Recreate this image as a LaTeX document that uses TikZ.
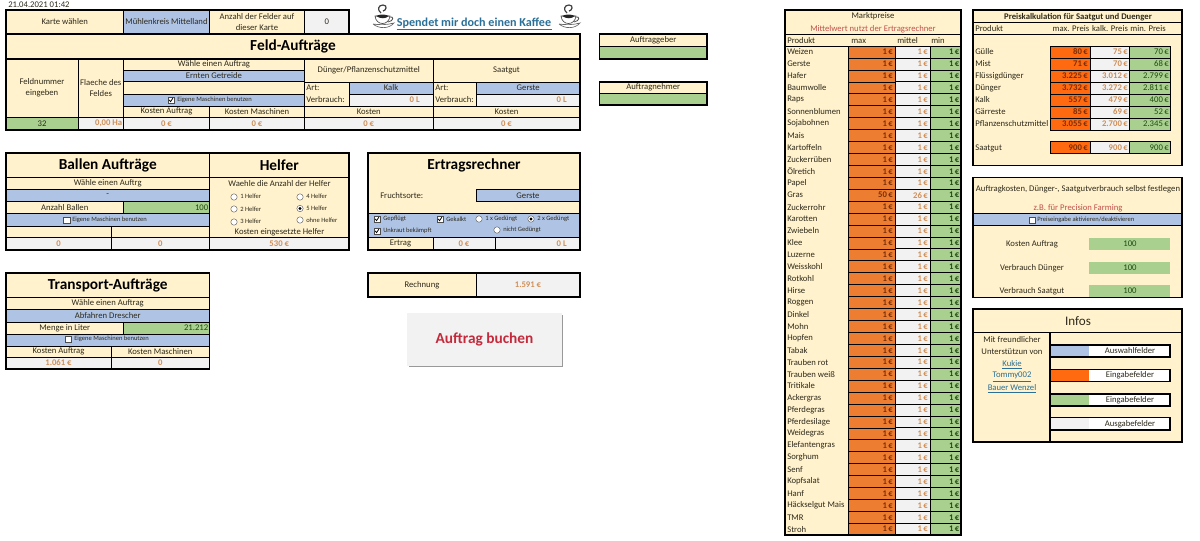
\documentclass[tikz,border=0pt]{standalone}
\usepackage{fontspec}
\setmainfont{Carlito}
\usetikzlibrary{positioning}

\definecolor{creamc}{HTML}{FFF2CC}
\definecolor{bluec}{HTML}{AFC3E4}
\definecolor{greenc}{HTML}{A9D08E}
\definecolor{orangec}{HTML}{ED7D31}
\definecolor{orangeb}{HTML}{FF6A10}
\definecolor{grayc}{HTML}{F2F2F2}
\definecolor{textc}{HTML}{2E2A1C}
\definecolor{outc}{HTML}{D08E55}
\definecolor{inc}{HTML}{7A2E05}
\definecolor{greent}{HTML}{1F4A12}
\definecolor{redt}{HTML}{C0504D}
\definecolor{redbtn}{HTML}{C42A3C}
\definecolor{linkc}{HTML}{2A6F97}

\tikzset{
    lbl/.style={font=\fontsize{6.5}{7}\selectfont, inner sep=0pt, text=textc, align=center},
    small/.style={lbl, font=\fontsize{4.9}{6}\selectfont},
    title/.style={lbl, font=\fontsize{11.5}{13}\bfseries\selectfont, text=black},
    outval/.style={lbl, text=outc, font=\fontsize{6.5}{7}\bfseries\selectfont},
    inval/.style={lbl, text=inc, font=\fontsize{6.5}{7}\bfseries\selectfont},
    grval/.style={lbl, text=greent, font=\fontsize{6.5}{7}\selectfont},
    link/.style={lbl, text=linkc},
    cellcream/.style={fill=creamc, draw=black, line width=.5pt},
    cellblue/.style={fill=bluec, draw=black, line width=.5pt},
    cellgreen/.style={fill=greenc, draw=black, line width=.5pt},
    cellgray/.style={fill=grayc, draw=black, line width=.5pt},
    cellorange/.style={fill=orangec, draw=black, line width=.4pt},
    cellorangeb/.style={fill=orangeb, draw=black, line width=.4pt},
    frame/.style={draw=black, line width=1.1pt},
    boxmark/.style={fill=white, draw=black!70, line width=.3pt},
    coffeecup/.pic={
        \draw[black!60, line width=.5pt, fill=white] (-10,7) .. controls (-4,12) and (6,12) .. (11,6) .. controls (4,8) and (-4,8) .. (-10,7);
        \draw[black!70, line width=.5pt, fill=white] (-8,-1) .. controls (-7,9) and (6,9) .. (7,-1) -- cycle;
        \fill[black!85] (-7,-1) .. controls (-2,2) and (2,2) .. (6,-1) .. controls (2,-3) and (-3,-3) .. (-7,-1);
        \draw[black!70, line width=.6pt] (7,0) .. controls (11,-1) and (11,4) .. (5,5);
        \draw[black!75, line width=.9pt] (-2,-4) .. controls (-6,-7) and (-5,-12) .. (0,-12) .. controls (5,-12) and (3,-6) .. (0,-6);
    }
}

% one table cell: options of the text, fill style, name, corners, text
\newcommand{\cell}[7][]{%
    \path[#2] (#4,#5) rectangle (#6,#7);
    \node[lbl,#1] (#3) at ({(#4+#6)/2},{(#5+#7)/2}) {\celltext};
}
\newcommand{\celltext}{}
\newcommand{\tcell}[8][]{%
    \renewcommand{\celltext}{#8}%
    \cell[#1]{#2}{#3}{#4}{#5}{#6}{#7}%
}

\begin{document}
\begin{tikzpicture}[x=0.75pt, y=-0.75pt]
    \useasboundingbox (0,0) rectangle (1200,540);

    \node[lbl, anchor=west] (date) at (8,5) {21.04.2021 01:42};

    % top row
    \tcell{cellcream}{karte}{6}{10}{123.5}{34}{Karte wählen}
    \tcell{cellblue}{muehle}{123.5}{10}{209.5}{34}{Mühlenkreis Mittelland}
    \tcell{cellcream}{anzahl}{209.5}{10}{304.5}{34}{Anzahl der Felder auf\\[1.5pt]dieser Karte}
    \tcell{cellgray}{anzval}{304.5}{10}{349}{34}{0}
    \draw[frame] (6,10) rectangle (349,34);

    % coffee
    \pic at (383,17) {coffeecup};
    \pic at (569,17) {coffeecup};
    \node[lbl, text=linkc, font=\fontsize{9.1}{10}\bfseries\selectfont] (spende) at (474,23) {Spendet mir doch einen Kaffee};
    \draw[linkc, line width=.5pt] (396.5,29) -- (552,29);

    % field orders
    \tcell[title]{cellcream}{feldtitel}{6}{34}{580}{59}{Feld-Aufträge}
    \tcell{cellcream}{feldnr}{6}{59}{78}{117}{Feldnummer\\[1.5pt]eingeben}
    \tcell{cellcream}{flaeche}{78}{59}{123.5}{117}{Flaeche des\\[1.5pt]Feldes}
    \tcell{cellcream}{waehle}{123.5}{59}{304.5}{70}{Wähle einen Auftrag}
    \tcell{cellblue}{ernten}{123.5}{70}{304.5}{81}{Ernten Getreide}
    \tcell{cellcream}{leer}{123.5}{81}{304.5}{94}{}
    \tcell{cellblue}{eigene}{123.5}{94}{304.5}{106}{}
    \tcell{cellcream}{kauftrag}{123.5}{106}{209.5}{117}{Kosten Auftrag}
    \tcell{cellcream}{kmasch}{209.5}{106}{304.5}{117}{Kosten Maschinen}
    \tcell{cellcream}{duenger}{304.5}{59}{433}{82}{Dünger/Pflanzenschutzmittel}
    \tcell{cellcream}{dart}{304.5}{82}{349}{106}{}
    \tcell{cellblue}{kalk}{349}{82}{433}{94}{Kalk}
    \tcell{cellgray}{dverb}{349}{94}{433}{106}{}
    \tcell{cellcream}{dkosten}{304.5}{106}{433}{117}{Kosten}
    \tcell{cellcream}{saatgut}{433}{59}{580}{82}{Saatgut}
    \tcell{cellcream}{sart}{433}{82}{476.5}{106}{}
    \tcell{cellblue}{gerste}{476.5}{82}{580}{94}{Gerste}
    \tcell{cellgray}{sverb}{476.5}{94}{580}{106}{}
    \tcell{cellcream}{skosten}{433}{106}{580}{117}{Kosten}
    \tcell{cellgreen}{feldval}{6}{117}{78}{130}{32}
    \tcell{cellgray}{flval}{78}{117}{123.5}{130}{}
    \tcell[outval]{cellgray}{kaval}{123.5}{117}{209.5}{130}{0 €}
    \tcell[outval]{cellgray}{kmval}{209.5}{117}{304.5}{130}{0 €}
    \tcell[outval]{cellgray}{dkval}{304.5}{117}{433}{130}{0 €}
    \tcell[outval]{cellgray}{skval}{433}{117}{580}{130}{0 €}
    \node[outval, anchor=east] (flha) at (122.5,123.5) {0,00 Ha};
    \node[lbl, anchor=west] (dartl) at (306,88) {Art:};
    \node[lbl, anchor=west] (dverbl) at (306,100) {Verbrauch:};
    \node[lbl, anchor=west] (sartl) at (435,88) {Art:};
    \node[lbl, anchor=west] (sverbl) at (435,100) {Verbrauch:};
    \node[outval, anchor=east] (dl) at (420,100) {0 L};
    \node[outval, anchor=east] (sl) at (567,100) {0 L};
    \draw[frame] (6,34) rectangle (580,59);
    \draw[frame] (6,59) rectangle (580,130);

    % client and contractor
    \tcell{cellcream}{geber}{599.5}{34}{707}{46}{Auftraggeber}
    \tcell{cellgreen}{geberval}{599.5}{46}{707}{59}{}
    \draw[frame] (599.5,34) rectangle (707,59);
    \tcell{cellcream}{nehmer}{599.5}{82}{707}{93}{Auftragnehmer}
    \tcell{cellgreen}{nehmerval}{599.5}{93}{707}{105}{}
    \draw[frame] (599.5,82) rectangle (707,105);

    % bale orders
    \tcell[title]{cellcream}{balltitel}{6}{153}{209.5}{177}{Ballen Aufträge}
    \tcell{cellcream}{ballw}{6}{177}{209.5}{189}{Wähle einen Auftrg}
    \tcell{cellblue}{ballb}{6}{189}{209.5}{201.5}{-}
    \tcell{cellcream}{ballanz}{6}{201.5}{123.5}{213.5}{Anzahl Ballen}
    \tcell{cellgreen}{ballg}{123.5}{201.5}{209.5}{213.5}{}
    \node[grval, anchor=east] (ballv) at (208.5,207.5) {100};
    \tcell{cellblue}{balle}{6}{213.5}{209.5}{226}{}
    \tcell{cellcream}{balll}{6}{226}{111}{237.5}{}
    \tcell{cellcream}{ballr}{111}{226}{209.5}{237.5}{}
    \tcell[outval]{cellgray}{ballvl}{6}{237.5}{111}{250}{0}
    \tcell[outval]{cellgray}{ballvr}{111}{237.5}{209.5}{250}{0}

    % helpers
    \tcell[title]{cellcream}{helftitel}{209.5}{153}{349}{177}{Helfer}
    \path[cellcream] (209.5,177) rectangle (349,237.5);
    \node[lbl] (helfw) at (279.5,184) {Waehle die Anzahl der Helfer};
    \node[lbl] (helfk) at (279.5,232) {Kosten eingesetzte Helfer};
    \tcell[outval]{cellgray}{helfv}{209.5}{237.5}{349}{250}{530 €}
    \draw[frame] (6,153) rectangle (349,250);
    \draw[frame] (209.5,153) -- (209.5,250);

    % yield calculator
    \tcell[title]{cellcream}{ertitel}{368}{153}{580}{177}{Ertragsrechner}
    \path[cellcream, draw=none] (368,177) rectangle (580,213);
    \node[lbl, anchor=west] (frucht) at (380,196) {Fruchtsorte:};
    \tcell{cellblue}{ergerste}{476}{189}{580}{201.5}{Gerste}
    \path[cellblue] (368,213) rectangle (580,237.5);
    \tcell{cellcream}{ertrag}{368}{237.5}{433}{250}{Ertrag}
    \tcell[outval]{cellgray}{erv}{433}{237.5}{495}{250}{0 €}
    \tcell{cellgray}{erl}{495}{237.5}{580}{250}{}
    \node[outval, anchor=east] (erlv) at (567,244) {0 L};
    \draw[frame] (368,153) rectangle (580,250);

    % invoice
    \tcell{cellcream}{rechn}{368}{273}{476}{297}{Rechnung}
    \tcell[outval]{cellgray}{rechv}{476}{273}{580}{297}{1.591 €}
    \draw[frame] (368,273) rectangle (580,297);

    % transport
    \tcell[title]{cellcream}{transtitel}{6}{273}{209.5}{297}{Transport-Aufträge}
    \tcell{cellcream}{transw}{6}{297}{209.5}{309}{Wähle einen Auftrag}
    \tcell{cellblue}{transb}{6}{309}{209.5}{322}{Abfahren Drescher}
    \tcell{cellcream}{transm}{6}{322}{123.5}{334}{Menge in Liter}
    \tcell{cellgreen}{transg}{123.5}{322}{209.5}{334}{}
    \node[grval, anchor=east] (transv) at (208.5,328) {21.212};
    \tcell{cellblue}{transe}{6}{334}{209.5}{346}{}
    \tcell{cellcream}{transka}{6}{346}{111}{357}{Kosten Auftrag}
    \tcell{cellcream}{transkm}{111}{346}{209.5}{357}{Kosten Maschinen}
    \tcell[outval]{cellgray}{transva}{6}{357}{111}{369}{1.061 €}
    \tcell[outval]{cellgray}{transvm}{111}{357}{209.5}{369}{0}
    \draw[frame] (6,273) rectangle (209.5,369);

    % button
    \fill[black!40] (408.5,314.5) rectangle (563,367);
    \tcell[text=redbtn, font=\fontsize{11.5}{13}\bfseries\selectfont]{fill=grayc}{buchen}{407}{313}{562}{365.5}{Auftrag buchen}

    % tick boxes, ticked
    \foreach \bx/\by in {171/100, 377/219, 440/219, 377/231}{
        \path[boxmark] (\bx-2.8,\by-2.8) rectangle (\bx+2.8,\by+2.8);
        \draw[black, line width=.6pt] (\bx-1.8,\by) -- (\bx-.4,\by+1.6) -- (\bx+1.9,\by-1.9);
    }
    % tick boxes, empty
    \foreach \bx/\by in {66.5/220, 68/339, 1032/220}{
        \path[boxmark] (\bx-3.2,\by-3.2) rectangle (\bx+3.2,\by+3.2);
    }
    \foreach \lx/\ly/\nm/\txt in {177/100/la/Eigene Maschinen benutzen, 72/220/lb/Eigene Maschinen benutzen,
        74/339/lc/Eigene Maschinen benutzen, 383/219/ld/Gepflügt, 446/219/le/Gekalkt,
        383/231/lf/Unkraut bekämpft, 485/219/lg/1 x Gedüngt, 537/219/lh/2 x Gedüngt, 503/230/li/nicht Gedüngt,
        240/196/lj/1 Helfer, 240/209/lk/2 Helfer, 240/221/ll/3 Helfer,
        306/196/lm/4 Helfer, 306/208/ln/5 Helfer, 306/220/lo/ohne Helfer}{
        \node[small, anchor=west] (\nm) at (\lx,\ly) {\txt};
    }
    % radio buttons
    \foreach \bx/\by in {234/197, 234/209, 234/222, 300/197, 300/220, 479/219, 497/230}{
        \path[boxmark] (\bx,\by) circle (3.2);
    }
    \foreach \bx/\by in {300/208.5, 531/219}{
        \path[boxmark] (\bx,\by) circle (3.2);
        \fill[black] (\bx,\by) circle (1.6);
    }

    % market prices
    \path[cellcream] (785,10) rectangle (961,46);
    \path[fill=creamc] (785,46) rectangle (848,535);
    \node[lbl] (markt) at (873,16) {Marktpreise};
    \node[lbl, text=redt] (mittelw) at (873,29) {Mittelwert nutzt der Ertragsrechner};
    \draw[black, line width=.7pt] (785,34.5) -- (961,34.5);
    \node[lbl, anchor=west] (mprod) at (787,41) {Produkt};
    \node[lbl, anchor=west] (mmax) at (851,41) {max};
    \node[lbl, anchor=west] (mmit) at (897,41) {mittel};
    \node[lbl, anchor=west] (mmin) at (931,41) {min};
    \foreach \prodname/\pmax/\pmid [count=\i] in {Weizen/1/1, Gerste/1/1, Hafer/1/1, Baumwolle/1/1, Raps/1/1,
        Sonnenblumen/1/1, Sojabohnen/1/1, Mais/1/1, Kartoffeln/1/1, Zuckerrüben/1/1, Ölretich/1/1, Papel/1/1,
        Gras/50/26, Zuckerrohr/1/1, Karotten/1/1, Zwiebeln/1/1, Klee/1/1, Luzerne/1/1, Weisskohl/1/1, Rotkohl/1/1,
        Hirse/1/1, Roggen/1/1, Dinkel/1/1, Mohn/1/1, Hopfen/1/1, Tabak/1/1, Trauben rot/1/1, Trauben weiß/1/1,
        Tritikale/1/1, Ackergras/1/1, Pferdegras/1/1, Pferdesilage/1/1, Weidegras/1/1, Elefantengras/1/1,
        Sorghum/1/1, Senf/1/1, Kopfsalat/1/1, Hanf/1/1, Häckselgut Mais/1/1, TMR/1/1, Stroh/1/1}{
        \pgfmathsetmacro{\ytop}{46+(\i-1)*11.93}
        \pgfmathsetmacro{\ybot}{\ytop+11.93}
        \pgfmathsetmacro{\ymid}{\ytop+5.96}
        \path[cellorange] (848,\ytop) rectangle (895,\ybot);
        \path[cellgray] (895,\ytop) rectangle (930,\ybot);
        \path[cellgreen] (930,\ytop) rectangle (961,\ybot);
        \node[lbl, anchor=west] (prod\i) at (787,\ymid) {\prodname};
        \node[inval, anchor=east] (pmax\i) at (893,\ymid) {\pmax\,€};
        \node[outval, anchor=east] (pmid\i) at (928,\ymid) {\pmid\,€};
        \node[grval, anchor=east, font=\fontsize{6.5}{7}\bfseries\selectfont] (pmin\i) at (959.5,\ymid) {1\,€};
    }
    \draw[black, line width=.5pt] (785,46) -- (961,46);
    \draw[frame] (785,10) rectangle (961,535);

    % price calculation
    \path[cellcream] (973,10) rectangle (1182,165.7);
    \node[lbl, font=\fontsize{6.5}{7}\bfseries\selectfont] (preistitel) at (1078,17) {Preiskalkulation für Saatgut und Duenger};
    \draw[black, line width=.7pt] (973,22.5) -- (1182,22.5);
    \draw[black, line width=.5pt] (973,34.5) -- (1182,34.5);
    \node[lbl, anchor=west] (pprod) at (975,29) {Produkt};
    \node[lbl] (pmaxh) at (1071,29) {max. Preis};
    \node[lbl] (pkalk) at (1110,29) {kalk. Preis};
    \node[lbl] (pminh) at (1148,29) {min. Preis};
    \foreach \prodname/\pa/\pb/\pc [count=\i] in {Gülle/80/75/70, Mist/71/70/68, Flüssigdünger/3.225/3.012/2.799,
        Dünger/3.732/3.272/2.811, Kalk/557/479/400, Gärreste/85/69/52, Pflanzenschutzmittel/3.055/2.700/2.345}{
        \pgfmathsetmacro{\ytop}{46+(\i-1)*12}
        \pgfmathsetmacro{\ybot}{\ytop+12}
        \pgfmathsetmacro{\ymid}{\ytop+6}
        \path[cellorangeb] (1050.7,\ytop) rectangle (1090,\ybot);
        \path[cellgray] (1090,\ytop) rectangle (1129.7,\ybot);
        \path[cellgreen] (1129.7,\ytop) rectangle (1170.7,\ybot);
        \node[lbl, anchor=west] (dprod\i) at (975,\ymid) {\prodname};
        \node[inval, anchor=east] (dmax\i) at (1088,\ymid) {\pa\,€};
        \node[outval, anchor=east] (dmid\i) at (1128,\ymid) {\pb\,€};
        \node[grval, anchor=east] (dmin\i) at (1169,\ymid) {\pc\,€};
    }
    \path[cellorangeb] (1050.7,141) rectangle (1090,153.7);
    \path[cellgray] (1090,141) rectangle (1129.7,153.7);
    \path[cellgreen] (1129.7,141) rectangle (1170.7,153.7);
    \node[lbl, anchor=west] (sprod) at (975,148) {Saatgut};
    \node[inval, anchor=east] (smax) at (1088,148) {900\,€};
    \node[outval, anchor=east] (smid) at (1128,148) {900\,€};
    \node[grval, anchor=east] (smin) at (1169,148) {900\,€};
    \draw[frame] (973,10) rectangle (1182,165.7);

    % own values
    \path[cellcream] (973,177.7) rectangle (1182,297.3);
    \node[lbl] (selbst) at (1078,189) {Auftragkosten, Dünger-, Saatgutverbrauch selbst festlegen};
    \node[lbl, text=redt] (precis) at (1078,208) {z.B. für Precision Farming};
    \path[cellblue, line width=.7pt] (973,213.7) rectangle (1182,225.7);
    \path[boxmark] (1028.8,216.8) rectangle (1035.2,223.2);
    \node[small, anchor=west] (preisein) at (1037,220) {Preiseingabe aktivieren/deaktivieren};
    \foreach \ya/\yb/\nm/\txt in {238/250/ka/Kosten Auftrag, 262/274/vd/Verbrauch Dünger, 285/297/vs/Verbrauch Saatgut}{
        \path[fill=greenc] (1089,\ya) rectangle (1170,\yb);
        \node[lbl] (\nm) at (1032,{(\ya+\yb)/2}) {\txt};
        \node[grval] (\nm v) at (1130,{(\ya+\yb)/2}) {100};
    }
    \draw[frame] (973,177.7) rectangle (1182,297.3);

    % infos
    \path[cellcream] (973,309) rectangle (1182,442);
    \node[lbl, font=\fontsize{9.8}{11}\selectfont] (infos) at (1078,321) {Infos};
    \draw[black, line width=.8pt] (973,332.7) -- (1182,332.7);
    \draw[black, line width=.8pt] (1050,332.7) -- (1050,442);
    \node[lbl] (freund) at (1012,340) {Mit freundlicher};
    \node[lbl] (unterst) at (1012,352) {Unterstützun von};
    \foreach \ly/\nm/\txt in {364.5/kukie/Kukie, 377/tommy/Tommy002, 389/bauer/Bauer Wenzel}{
        \node[link] (\nm) at (1012,\ly) {\underline{\txt}};
    }
    \foreach \ya/\yb/\col/\nm/\txt in {345/357/bluec/ausw/Auswahlfelder, 369.3/381.7/orangeb/eing/Eingabefelder,
        394/406/greenc/einh/Eingabefelder, 417.7/430/grayc/ausg/Ausgabefelder}{
        \path[fill=white] (1050,\ya) rectangle (1170,\yb);
        \path[fill=\col] (1050,\ya) rectangle (1089,\yb);
        \draw[black, line width=.8pt] (1050,\ya) rectangle (1170,\yb);
        \node[lbl] (\nm) at (1130,{(\ya+\yb)/2}) {\txt};
    }
    \draw[frame] (973,309) rectangle (1182,442);
\end{tikzpicture}
\end{document}
